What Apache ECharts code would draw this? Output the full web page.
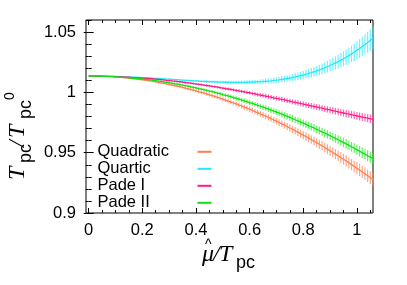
<!DOCTYPE html>
<html><head><meta charset="utf-8">
<script src="https://cdn.jsdelivr.net/npm/echarts@6/dist/echarts.min.js"></script>
<style>html,body{margin:0;padding:0;background:#fff}#c{width:407px;height:285px}</style>
</head><body><div id="c"></div>
<script>
const mu = [0,0.01,0.02,0.03,0.04,0.05,0.06,0.07,0.08,0.09,0.10,0.11,0.12,0.13,0.14,0.15,0.16,0.17,0.18,0.19,0.20,0.21,0.22,0.23,0.24,0.25,0.26,0.27,0.28,0.29,0.30,0.31,0.32,0.33,0.34,0.35,0.36,0.37,0.38,0.39,0.40,0.41,0.42,0.43,0.44,0.45,0.46,0.47,0.48,0.49,0.50,0.51,0.52,0.53,0.54,0.55,0.56,0.57,0.58,0.59,0.60,0.61,0.62,0.63,0.64,0.65,0.66,0.67,0.68,0.69,0.70,0.71,0.72,0.73,0.74,0.75,0.76,0.77,0.78,0.79,0.80,0.81,0.82,0.83,0.84,0.85,0.86,0.87,0.88,0.89,0.90,0.91,0.92,0.93,0.94,0.95,0.96,0.97,0.98,0.99,1.00,1.01,1.02,1.03,1.04,1.05,1.06];
const seriesNames = ['Quadratic','Quartic','Pade I','Pade II'];
const quadratic = [1.0135,1.0135,1.0135,1.0134,1.0134,1.0133,1.0132,1.0131,1.0130,1.0129,1.0127,1.0126,1.0124,1.0122,1.0120,1.0118,1.0115,1.0113,1.0110,1.0107,1.0104,1.0101,1.0098,1.0095,1.0091,1.0087,1.0083,1.0079,1.0075,1.0071,1.0066,1.0062,1.0057,1.0052,1.0047,1.0041,1.0036,1.0030,1.0025,1.0019,1.0013,1.0007,1.0000,0.9994,0.9987,0.9980,0.9973,0.9966,0.9959,0.9952,0.9944,0.9936,0.9928,0.9920,0.9912,0.9904,0.9895,0.9887,0.9878,0.9869,0.9860,0.9851,0.9841,0.9832,0.9822,0.9812,0.9802,0.9792,0.9782,0.9771,0.9761,0.9750,0.9739,0.9728,0.9717,0.9705,0.9694,0.9682,0.9670,0.9658,0.9646,0.9634,0.9621,0.9609,0.9596,0.9583,0.9570,0.9557,0.9543,0.9530,0.9516,0.9502,0.9488,0.9474,0.9460,0.9446,0.9431,0.9416,0.9401,0.9386,0.9371,0.9356,0.9340,0.9325,0.9309,0.9293,0.9277];
const quadraticErr = [0,0.00003,0.00006,0.00009,0.00012,0.00015,0.00018,0.00021,0.00024,0.00027,0.0003,0.00033,0.00036,0.00039,0.00043,0.00046,0.00049,0.00052,0.00055,0.00058,0.00062,0.00065,0.00068,0.00071,0.00075,0.00078,0.00081,0.00085,0.00088,0.00092,0.00095,0.00099,0.00102,0.00106,0.0011,0.00113,0.00117,0.00121,0.00124,0.00128,0.00132,0.00136,0.0014,0.00144,0.00148,0.00152,0.00157,0.00161,0.00165,0.00169,0.00174,0.00178,0.00183,0.00187,0.00192,0.00197,0.00201,0.00206,0.00211,0.00216,0.00221,0.00226,0.00231,0.00237,0.00242,0.00247,0.00253,0.00258,0.00264,0.00269,0.00275,0.00281,0.00287,0.00293,0.00299,0.00305,0.00311,0.00318,0.00324,0.00331,0.00337,0.00344,0.00351,0.00358,0.00365,0.00372,0.00379,0.00386,0.00394,0.00401,0.00409,0.00416,0.00424,0.00432,0.0044,0.00448,0.00456,0.00464,0.00473,0.00481,0.0049,0.00499,0.00508,0.00517,0.00526,0.00535,0.00544];
const quartic = [1.0135,1.0135,1.0135,1.0135,1.0134,1.0134,1.0134,1.0133,1.0133,1.0132,1.0132,1.0131,1.0130,1.0129,1.0129,1.0128,1.0127,1.0126,1.0125,1.0124,1.0122,1.0121,1.0120,1.0119,1.0117,1.0116,1.0115,1.0113,1.0112,1.0110,1.0109,1.0108,1.0106,1.0105,1.0103,1.0102,1.0100,1.0099,1.0098,1.0096,1.0095,1.0094,1.0092,1.0091,1.0090,1.0089,1.0088,1.0087,1.0086,1.0085,1.0085,1.0084,1.0084,1.0083,1.0083,1.0083,1.0083,1.0083,1.0083,1.0084,1.0085,1.0085,1.0086,1.0087,1.0089,1.0090,1.0092,1.0094,1.0096,1.0099,1.0101,1.0104,1.0108,1.0111,1.0115,1.0119,1.0123,1.0128,1.0133,1.0138,1.0144,1.0150,1.0157,1.0163,1.0171,1.0178,1.0186,1.0195,1.0204,1.0213,1.0223,1.0233,1.0244,1.0255,1.0267,1.0279,1.0291,1.0305,1.0319,1.0333,1.0348,1.0364,1.0380,1.0397,1.0414,1.0432,1.0451];
const quarticErr = [0,0.00002,0.00004,0.00006,0.00008,0.0001,0.00012,0.00014,0.00016,0.00018,0.0002,0.00022,0.00024,0.00026,0.00028,0.0003,0.00032,0.00034,0.00036,0.00038,0.0004,0.00042,0.00044,0.00046,0.00048,0.00051,0.00053,0.00055,0.00057,0.00059,0.00061,0.00064,0.00066,0.00068,0.00071,0.00073,0.00075,0.00078,0.0008,0.00083,0.00086,0.00088,0.00091,0.00094,0.00097,0.001,0.00103,0.00107,0.0011,0.00114,0.00117,0.00121,0.00125,0.00129,0.00133,0.00138,0.00142,0.00147,0.00152,0.00157,0.00163,0.00168,0.00174,0.00181,0.00187,0.00194,0.00201,0.00208,0.00216,0.00224,0.00232,0.00241,0.0025,0.0026,0.0027,0.00281,0.00292,0.00303,0.00315,0.00327,0.0034,0.00354,0.00368,0.00383,0.00398,0.00414,0.00431,0.00448,0.00466,0.00485,0.00505,0.00525,0.00547,0.00569,0.00592,0.00616,0.00641,0.00666,0.00693,0.00721,0.0075,0.0078,0.00811,0.00844,0.00877,0.00912,0.00948];
const padeI = [1.0135,1.0135,1.0135,1.0135,1.0134,1.0134,1.0133,1.0133,1.0132,1.0132,1.0131,1.0130,1.0129,1.0128,1.0127,1.0126,1.0124,1.0123,1.0121,1.0120,1.0118,1.0117,1.0115,1.0113,1.0111,1.0109,1.0107,1.0105,1.0103,1.0100,1.0098,1.0095,1.0093,1.0090,1.0088,1.0085,1.0082,1.0079,1.0076,1.0073,1.0070,1.0067,1.0064,1.0060,1.0057,1.0054,1.0050,1.0047,1.0043,1.0039,1.0036,1.0032,1.0028,1.0024,1.0020,1.0016,1.0012,1.0008,1.0004,1.0000,0.9996,0.9991,0.9987,0.9982,0.9978,0.9974,0.9969,0.9965,0.9960,0.9955,0.9951,0.9946,0.9942,0.9937,0.9932,0.9927,0.9922,0.9918,0.9913,0.9908,0.9903,0.9898,0.9893,0.9888,0.9883,0.9879,0.9874,0.9869,0.9864,0.9859,0.9854,0.9849,0.9844,0.9839,0.9834,0.9829,0.9824,0.9820,0.9815,0.9810,0.9805,0.9800,0.9795,0.9791,0.9786,0.9781,0.9777];
const padeIErr = [0,0.00002,0.00004,0.00006,0.00008,0.0001,0.00012,0.00014,0.00016,0.00018,0.0002,0.00022,0.00024,0.00026,0.00028,0.0003,0.00032,0.00034,0.00036,0.00038,0.00041,0.00043,0.00045,0.00047,0.0005,0.00051,0.00053,0.00056,0.00058,0.00061,0.00063,0.00065,0.00067,0.0007,0.00073,0.00075,0.00077,0.0008,0.00082,0.00084,0.00087,0.0009,0.00092,0.00095,0.00098,0.001,0.00104,0.00106,0.00109,0.00112,0.00115,0.00117,0.00121,0.00123,0.00127,0.0013,0.00133,0.00136,0.00139,0.00143,0.00146,0.00149,0.00152,0.00156,0.0016,0.00163,0.00167,0.0017,0.00174,0.00178,0.00182,0.00185,0.00189,0.00193,0.00197,0.00201,0.00205,0.0021,0.00214,0.00218,0.00222,0.00227,0.00232,0.00236,0.00241,0.00246,0.0025,0.00255,0.0026,0.00265,0.0027,0.00275,0.0028,0.00285,0.0029,0.00296,0.00301,0.00306,0.00312,0.00317,0.00323,0.00329,0.00335,0.00341,0.00347,0.00353,0.00359];
const padeII = [1.0135,1.0135,1.0135,1.0134,1.0134,1.0133,1.0133,1.0132,1.0131,1.0130,1.0129,1.0128,1.0126,1.0125,1.0123,1.0121,1.0119,1.0117,1.0115,1.0113,1.0111,1.0108,1.0105,1.0103,1.0100,1.0097,1.0094,1.0091,1.0087,1.0084,1.0080,1.0076,1.0073,1.0069,1.0065,1.0060,1.0056,1.0052,1.0047,1.0042,1.0037,1.0032,1.0027,1.0022,1.0017,1.0011,1.0006,1.0000,0.9994,0.9989,0.9982,0.9976,0.9970,0.9964,0.9957,0.9950,0.9944,0.9937,0.9930,0.9923,0.9915,0.9908,0.9900,0.9893,0.9885,0.9877,0.9869,0.9861,0.9853,0.9845,0.9836,0.9828,0.9819,0.9810,0.9801,0.9792,0.9783,0.9773,0.9764,0.9754,0.9745,0.9735,0.9725,0.9715,0.9705,0.9694,0.9684,0.9673,0.9663,0.9652,0.9641,0.9630,0.9619,0.9607,0.9596,0.9585,0.9573,0.9561,0.9549,0.9537,0.9525,0.9513,0.9500,0.9488,0.9475,0.9463,0.9450];
const padeIIErr = [0,0.00003,0.00005,0.00008,0.0001,0.00013,0.00016,0.00018,0.00021,0.00023,0.00026,0.00029,0.00031,0.00034,0.00037,0.0004,0.00043,0.00045,0.00048,0.0005,0.00054,0.00057,0.00059,0.00062,0.00065,0.00068,0.0007,0.00074,0.00077,0.0008,0.00083,0.00086,0.00089,0.00092,0.00096,0.00098,0.00102,0.00105,0.00108,0.00111,0.00115,0.00118,0.00122,0.00125,0.00129,0.00132,0.00137,0.0014,0.00144,0.00147,0.00151,0.00155,0.00159,0.00163,0.00167,0.00171,0.00175,0.00179,0.00184,0.00188,0.00192,0.00197,0.00201,0.00206,0.00211,0.00215,0.0022,0.00224,0.0023,0.00234,0.00239,0.00244,0.0025,0.00255,0.0026,0.00265,0.00271,0.00277,0.00282,0.00288,0.00293,0.00299,0.00305,0.00311,0.00318,0.00324,0.0033,0.00336,0.00343,0.00349,0.00356,0.00362,0.00369,0.00376,0.00383,0.0039,0.00397,0.00404,0.00412,0.00418,0.00426,0.00434,0.00442,0.0045,0.00458,0.00465,0.00473];
const xLabelTicks = [0,0.2,0.4,0.6,0.8,1.0];
const xMinorTicks = [0,0.05,0.1,0.15,0.2,0.25,0.3,0.35,0.4,0.45,0.5,0.55,0.6,0.65,0.7,0.75,0.8,0.85,0.9,0.95,1.0,1.05];
const yLabelTicks = [0.9,0.95,1.0,1.05];
const yMinorTicks = [0.9,0.91,0.92,0.93,0.94,0.95,0.96,0.97,0.98,0.99,1.0,1.01,1.02,1.03,1.04,1.05,1.06];

const values = [quadratic, quartic, padeI, padeII];
const errs = [quadraticErr, quarticErr, padeIErr, padeIIErr];
const lineColors = ['#ff7f50','#22e8f8','#ff1a8c','#10e010'];
const barColors = ['#ff8a60','#40eeff','#ff3399','#30ee30'];

const sans = 'Liberation Sans, Arial, sans-serif';
const serif = 'Liberation Serif, Times New Roman, serif';
const XMIN = -0.01, XMAX = 1.06, YMIN = 0.9, YMAX = 1.06;

function fmtX(v){ return v === 0 ? '0' : (Math.abs(v-1) < 1e-9 ? '1' : String(+v.toFixed(2))); }
function fmtY(v){ return Math.abs(v-1) < 1e-9 ? '1' : String(+v.toFixed(2)); }

function tickAxis(pos, min, max, len, ticks, label){
  return {type:'value', position:pos, min:min, max:max,
    axisLine:{show:false}, splitLine:{show:false},
    axisTick:{show:true, inside:true, length:len, lineStyle:{color:'#000', width:1}, customValues:ticks},
    axisLabel: label ? Object.assign({show:true, customValues:ticks, color:'#000', fontFamily:sans, fontSize:16.5}, label) : {show:false}};
}
const xAxes = [
  tickAxis('bottom', XMIN, XMAX, 5, xLabelTicks, {formatter:fmtX, margin:9}),
  tickAxis('bottom', XMIN, XMAX, 3, xMinorTicks, null),
  tickAxis('top', XMIN, XMAX, 5, xLabelTicks, null),
  tickAxis('top', XMIN, XMAX, 3, xMinorTicks, null)
];
const yAxes = [
  tickAxis('left', YMIN, YMAX, 5, yLabelTicks, {formatter:fmtY, margin:10}),
  tickAxis('left', YMIN, YMAX, 3, yMinorTicks, null),
  tickAxis('right', YMIN, YMAX, 5, yLabelTicks, null),
  tickAxis('right', YMIN, YMAX, 3, yMinorTicks, null)
];

const series = [];
seriesNames.forEach((name, k) => {
  const v = values[k], e = errs[k];
  series.push({
    type:'custom', name:name, xAxisIndex:0, yAxisIndex:0, z:2+k, silent:true,
    data: mu.map((m,i) => [m, v[i]-e[i], v[i]+e[i]]),
    encode:{x:0, y:[1,2]},
    renderItem:(params, api) => {
      const p1 = api.coord([api.value(0), api.value(1)]);
      const p2 = api.coord([api.value(0), api.value(2)]);
      if (Math.abs(p2[1]-p1[1]) < 0.6) return null;
      return {type:'line', shape:{x1:p1[0], y1:p1[1], x2:p2[0], y2:p2[1]},
              style:{stroke:barColors[k], lineWidth:1.2, opacity:0.75}};
    },
    itemStyle:{color:lineColors[k]}
  });
  series.push({
    type:'line', name:name, xAxisIndex:0, yAxisIndex:0, z:6+k,
    data: mu.map((m,i) => [m, v[i]]),
    showSymbol:false, symbol:'none', smooth:false,
    lineStyle:{color:lineColors[k], width:1.3},
    itemStyle:{color:barColors[k]}
  });
});

const T = (x, y, text, font) => ({type:'text', x:x, y:y, style:{text:text, font:font, fill:'#000'}});
const mainFont = 'italic 24px ' + serif, subFont = '18px ' + sans;

const chart = echarts.init(document.getElementById('c'), null, {renderer:'canvas'});
chart.setOption({
  animation:false,
  backgroundColor:'#fff',
  grid:{left:86, top:20, right:34, bottom:72, show:true, borderColor:'#000', borderWidth:1, backgroundColor:'transparent'},
  xAxis:xAxes,
  yAxis:yAxes,
  legend:{
    data:seriesNames, orient:'vertical', left:97.5, top:143.3, align:'right',
    icon:'rect', itemWidth:14, itemHeight:2, itemGap:0, padding:0, selectedMode:false,
    formatter: n => '{t|' + n + '}',
    textStyle:{color:'#000', fontFamily:sans, fontSize:16.5, lineHeight:16.8,
      rich:{t:{width:95, align:'left', color:'#000', fontFamily:sans, fontSize:16.5, lineHeight:16.8}}}
  },
  graphic:[
    {type:'group', x:0, y:0, children:[
      T(205, 238, '^', '14px ' + sans),
      T(202, 243, 'μ', mainFont),
      T(213, 243, '/', mainFont),
      T(219, 243, 'T', mainFont),
      T(236, 254, 'pc', subFont)
    ]},
    {type:'group', x:5.5, y:180, rotation:Math.PI/2, children:[
      T(0, 0, 'T', mainFont),
      T(17, 12, 'pc', subFont),
      T(33, 0, '/', mainFont),
      T(42, 0, 'T', mainFont),
      T(61, 12, 'pc', subFont),
      T(80, -2.2, '0', '14px ' + sans)
    ]}
  ],
  series:series
});
</script></body></html>
